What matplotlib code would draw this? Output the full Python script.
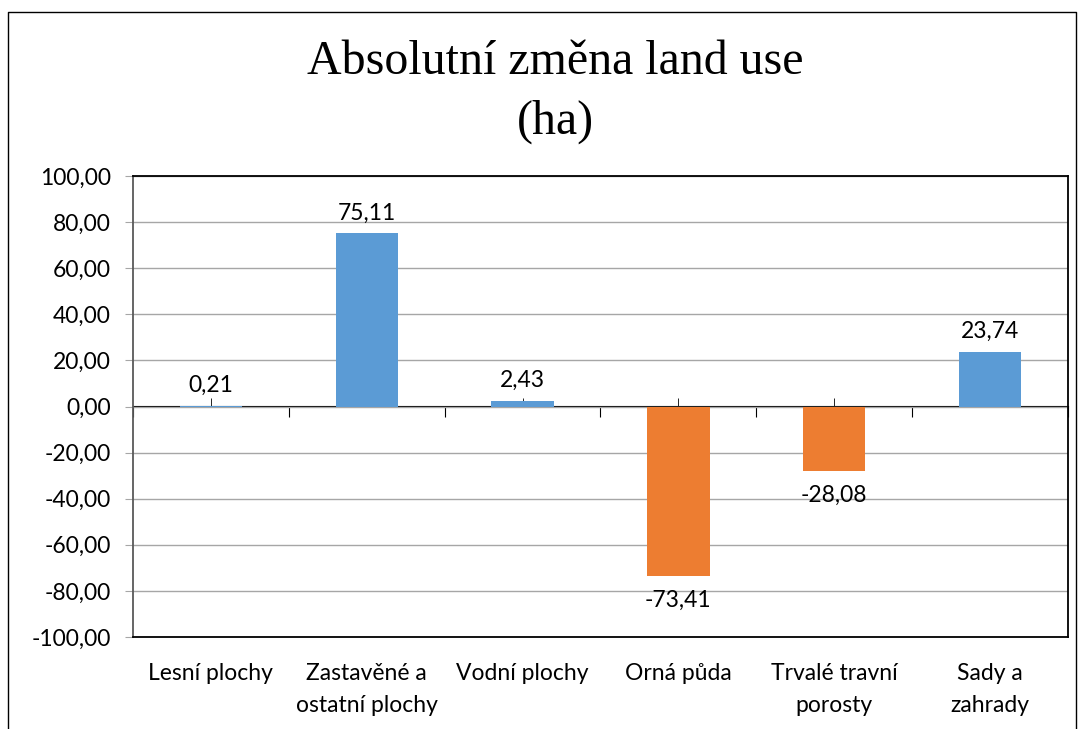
import matplotlib
matplotlib.use("Agg")
import matplotlib.pyplot as plt
from matplotlib.lines import Line2D
import numpy as np

categories = ["Lesní plochy", "Zastavěné a\nostatní plochy", "Vodní plochy",
              "Orná půda", "Trvalé travní\nporosty", "Sady a\nzahrady"]
values = [0.21, 75.11, 2.43, -73.41, -28.08, 23.74]
value_labels = ["0,21", "75,11", "2,43", "-73,41", "-28,08", "23,74"]
yticks = [-100, -80, -60, -40, -20, 0, 20, 40, 60, 80, 100]
ytick_labels = ["-100,00", "-80,00", "-60,00", "-40,00", "-20,00", "0,00",
                "20,00", "40,00", "60,00", "80,00", "100,00"]
title_line1 = "Absolutní změna land use"
title_line2 = "(ha)"

BLUE = "#5B9BD5"
ORANGE = "#ED7D31"
GRID = "#A6A6A6"
LABEL_FONT = ["Lato", "DejaVu Sans"]
FS = 16.5

fig = plt.figure(figsize=(10.86, 7.29), dpi=100)
ax = fig.add_axes([133/1086, 1-637/729, (1068-133)/1086, (637-176)/729])

x = np.arange(len(categories))
colors = [BLUE if v >= 0 else ORANGE for v in values]
ax.bar(x, values, width=0.4, color=colors, zorder=3)

ax.set_xlim(-0.5, len(categories) - 0.5)
ax.set_ylim(-100, 100)
ax.set_yticks(yticks)
ax.set_yticklabels(ytick_labels, fontsize=FS, family=LABEL_FONT)
ax.yaxis.grid(True, color=GRID, linewidth=1.0, zorder=0)
ax.set_axisbelow(True)
ax.tick_params(axis="y", length=6, color=GRID, pad=10)

ax.set_xticks(x)
ax.set_xticklabels(categories, fontsize=FS, family=LABEL_FONT, linespacing=1.6)
ax.tick_params(axis="x", length=0, pad=19)

for s in ["top", "right", "bottom"]:
    ax.spines[s].set_color("black")
    ax.spines[s].set_linewidth(1.3)
ax.spines["left"].set_color("#595959")
ax.spines["left"].set_linewidth(1.3)

# zero axis with ticks
sec = ax.secondary_xaxis(0.5)
sec.set_xticks(np.arange(len(categories) + 1) - 0.5)
sec.set_xticks(x, minor=True)
sec.tick_params(axis="x", which="major", direction="in", length=8, color="black",
                labelbottom=False, labeltop=False)
sec.tick_params(axis="x", which="minor", direction="out", length=6, color="black",
                labelbottom=False, labeltop=False)
sec.spines["bottom"].set_color("black")
sec.spines["bottom"].set_linewidth(1.0)
sec.set_xticklabels([])

for xi, v, lab in zip(x, values, value_labels):
    if v >= 0:
        ax.annotate(lab, (xi, v), xytext=(0, 7), textcoords="offset points",
                    ha="center", va="bottom", fontsize=FS, family=LABEL_FONT)
    else:
        ax.annotate(lab, (xi, v), xytext=(0, -10), textcoords="offset points",
                    ha="center", va="top", fontsize=FS, family=LABEL_FONT)

serif = ["Liberation Serif", "DejaVu Serif"]
fig.text(555/1086, 1-62/729, title_line1, ha="center", va="center", fontsize=34.5,
         family=serif)
fig.text(555/1086, 1-122/729, title_line2, ha="center", va="center", fontsize=34.5,
         family=serif)

# outer chart border
fig.add_artist(Line2D([8/1086, 8/1086, 1076/1086, 1076/1086],
                      [0, 1-12/729, 1-12/729, 0], color="black", linewidth=1.0,
                      transform=fig.transFigure))

fig.savefig("out.png", dpi=100)
